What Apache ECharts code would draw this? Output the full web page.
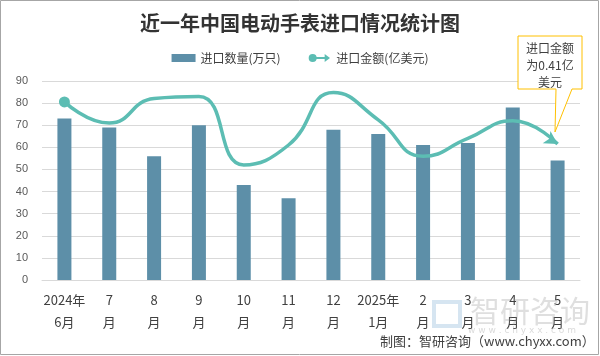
<!DOCTYPE html>
<html><head><meta charset="utf-8">
<script src="https://cdn.jsdelivr.net/npm/echarts@6/dist/echarts.min.js"></script>
<style>html,body{margin:0;padding:0;background:#fff}#c{width:600px;height:356px}</style>
</head><body><div id="c"></div>
<script>
const categories = ['2024年\n6月','7\n月','8\n月','9\n月','10\n月','11\n月','12\n月','2025年\n1月','2\n月','3\n月','4\n月','5\n月'];
const quantity = [73, 69, 56, 70, 43, 37, 68, 66, 61, 62, 78, 54];
const amount = [0.537, 0.473, 0.547, 0.553, 0.347, 0.407, 0.565, 0.483, 0.373, 0.427, 0.48, 0.41];
const yTicks = [0, 10, 20, 30, 40, 50, 60, 70, 80, 90];

const chart = echarts.init(document.getElementById('c'), null, {renderer:'canvas'});
const lineData = amount.map((v,i)=>{
  if(i===0) return {value:v, symbol:'circle', symbolSize:11};
  if(i===amount.length-1) return {value:v, symbol:'arrow', symbolSize:[11,13], symbolRotate:-122};
  return {value:v, symbol:'none'};
});
chart.setOption({
  animation:false,
  title:{text:'近一年中国电动手表进口情况统计图', left:'center', top:8,
    textStyle:{fontFamily:'Noto Sans CJK SC', fontWeight:'bold', fontSize:20, color:'#333'}},
  legend:{top:47, left:'center', itemGap:28, itemWidth:24, itemHeight:8,
    textStyle:{fontFamily:'Noto Sans CJK SC', fontSize:12, color:'#404040'},
    data:[{name:'进口数量(万只)', icon:'rect'},
          {name:'进口金额(亿美元)', icon:'path://M6,0A6,6 0 1 1 6,12A6,6 0 1 1 6,0ZM6,4.5L24,4.5L24,0L32,6L24,12L24,7.5L6,7.5Z', itemWidth:28, itemHeight:10}]},
  grid:{left:42, right:20, top:81, bottom:76},
  xAxis:{type:'category', data:categories,
    axisLine:{lineStyle:{color:'#d9d9d9'}}, axisTick:{show:false},
    axisLabel:{color:'#404040', fontSize:13, lineHeight:22, margin:9, interval:0, fontFamily:'Noto Sans CJK SC'}},
  yAxis:[{type:'value', min:0, max:90, interval:10,
    axisLabel:{color:'#595959', fontSize:11, margin:14, formatter:v=>yTicks.includes(v)?String(v):''},
    splitLine:{lineStyle:{color:'#d9d9d9'}}, axisLine:{show:false}, axisTick:{show:false}},
    {type:'value', min:0, max:0.6, show:false, splitLine:{show:false}}],
  series:[
    {name:'进口数量(万只)', type:'bar', data:quantity, barWidth:14, itemStyle:{color:'#5D8FA8'}},
    {name:'进口金额(亿美元)', type:'line', yAxisIndex:1, data:lineData, smooth:0.5,
      lineStyle:{color:'#5CBDB3', width:3.5}, itemStyle:{color:'#5CBDB3'}}
  ],
  graphic:[
    {type:'rect', shape:{x:0.5,y:0.5,width:598,height:354}, style:{fill:'none', stroke:'#a6a6a6', lineWidth:1}, silent:true},
    {type:'polygon', shape:{points:[[518,36],[582,36],[582,89],[572,89],[555,132],[556,89],[518,89]]},
      style:{fill:'#fff', stroke:'#FFC000', lineWidth:1}, z:10},
    {type:'text', z:11, style:{text:'进口金额\n为0.41亿\n美元', x:550, y:40, align:'center', textAlign:'center',
      font:'12px "Noto Sans CJK SC"', fill:'#404040', lineHeight:17}},
    {type:'text', z:1, style:{x:470, y:296, text:'智研咨询', font:'30px "Noto Sans CJK SC"', fill:'rgba(150,150,150,0.3)'}},
    {type:'text', z:1, style:{x:468, y:326, text:'w w w . c h y x x . c o m', font:'9px "DejaVu Sans"', fill:'rgba(150,150,150,0.35)'}},
    {type:'rect', z:1, shape:{x:434,y:302,width:26,height:24}, style:{fill:'none', stroke:'rgba(120,170,210,0.3)', lineWidth:4}},
    {type:'text', z:12, style:{x:380, y:335, text:'制图：智研咨询（www.chyxx.com）', font:'13px "Noto Sans CJK SC"', fill:'#404040'}}
  ]
});
</script></body></html>
